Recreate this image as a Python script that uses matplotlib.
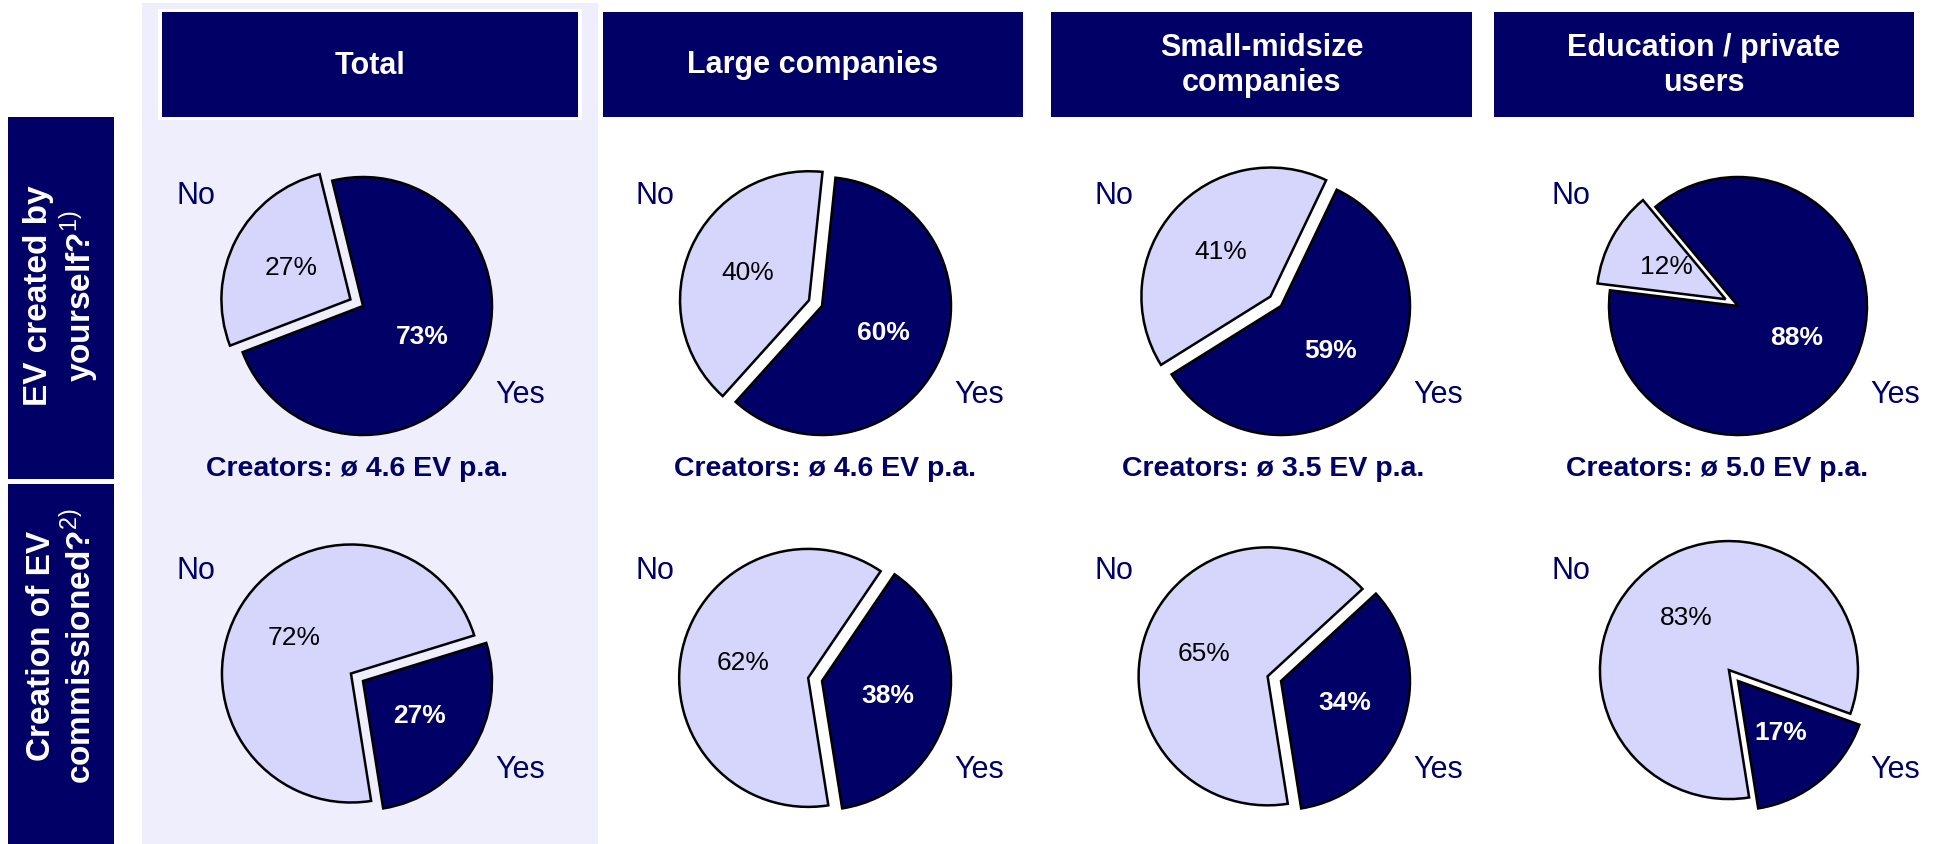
import matplotlib
matplotlib.use("Agg")
import matplotlib.pyplot as plt
from matplotlib.patches import Rectangle

# ---------------- data ----------------
segments = ["Total", "Large companies", "Small-midsize\ncompanies", "Education / private\nusers"]
row_titles = ["EV created by\nyourself?$^{\\mathrm{1)}}$",
              "Creation of EV\ncommissioned?$^{\\mathrm{2)}}$"]
answer_labels = ["Yes", "No"]
created_yes = [73, 60, 59, 88]
created_no = [27, 40, 41, 12]
commissioned_yes = [27, 38, 34, 17]
commissioned_no = [72, 62, 65, 83]
creators_avg = [4.6, 4.6, 3.5, 5.0]

# ---------------- style / layout ----------------
W, H, DPI = 1935, 844, 100
NAVY = "#000066"
LIGHT = "#D6D6FC"
PANEL = "#EEEEFD"
FONT = "Liberation Sans"
plt.rcParams["font.family"] = [FONT, "DejaVu Sans"]
plt.rcParams["mathtext.fontset"] = "custom"
plt.rcParams["mathtext.rm"] = FONT
plt.rcParams["mathtext.bf"] = FONT + ":bold"

col_x = [363, 822, 1281, 1738]
row_y = [306, 681]
R = 129.0                       # pie radius in px
L = 225.0                       # half size of pie axes in px
U = L / R
start_top = [201, 228, 212, 173]
start_bottom = [-81, -81, -81, -81]
EXPL = 0.11

header_boxes = [(162, 578), (603, 1023), (1051, 1472), (1494, 1914)]
header_y = (12, 117)
creators_x = [357, 825, 1273, 1717]

fig = plt.figure(figsize=(W / DPI, H / DPI), dpi=DPI, facecolor="white")
bg = fig.add_axes([0, 0, 1, 1])
bg.set_xlim(0, W)
bg.set_ylim(H, 0)
bg.axis("off")

# Total panel background
bg.add_patch(Rectangle((142, 3), 598 - 142, H - 3, facecolor=PANEL, edgecolor="none", zorder=0))

# header boxes
for i, (x0, x1) in enumerate(header_boxes):
    if i == 0:
        bg.add_patch(Rectangle((x0 - 4, header_y[0] - 3), x1 - x0 + 8, header_y[1] - header_y[0] + 6,
                               facecolor="white", edgecolor="none", zorder=1))
    bg.add_patch(Rectangle((x0, header_y[0]), x1 - x0, header_y[1] - header_y[0],
                           facecolor=NAVY, edgecolor="none", zorder=2))
    bg.text((x0 + x1) / 2, (header_y[0] + header_y[1]) / 2 + 1, segments[i], color="white",
            fontsize=22, fontweight="bold", ha="center", va="center", linespacing=1.18, zorder=3)

# side row boxes
side_boxes = [(117, 479), (484, H)]
side_text_y = [296, 646]
for (y0, y1), t, ty in zip(side_boxes, row_titles, side_text_y):
    bg.add_patch(Rectangle((8, y0), 114 - 8, y1 - y0, facecolor=NAVY, edgecolor="none", zorder=2))
    bg.text(62, ty, t, color="white", fontsize=24, fontweight="bold", rotation=90,
            ha="center", va="center", multialignment="center", linespacing=1.12, zorder=3)

# creators text
for x, v in zip(creators_x, creators_avg):
    bg.text(x, 476, f"Creators: ø {v:.1f} EV p.a.", color=NAVY, fontsize=20.5,
            fontweight="bold", ha="center", va="baseline", zorder=3)


def draw_pie(cx, cy, yes, no, start):
    ax = fig.add_axes([(cx - L) / W, (H - cy - L) / H, 2 * L / W, 2 * L / H])
    vals = [yes, no]
    total = float(sum(vals))
    wedges, texts, autotexts = ax.pie(
        vals, colors=[NAVY, LIGHT], startangle=start, counterclock=True,
        explode=[0, EXPL], radius=1, pctdistance=0.52,
        autopct=lambda p: f"{p * total / 100:.0f}%",
        wedgeprops=dict(edgecolor="black", linewidth=1.8),
        textprops=dict(fontsize=19))
    autotexts[0].set_color("white")
    autotexts[0].set_fontweight("bold")
    autotexts[1].set_color("black")
    ax.set_xlim(-U, U)
    ax.set_ylim(-U, U)
    ax.set_aspect("auto")
    ax.axis("off")
    ax.text(1.217, -0.69, answer_labels[0], color=NAVY, fontsize=22, ha="center", va="center")
    ax.text(-1.295, 0.853, answer_labels[1], color=NAVY, fontsize=22, ha="center", va="center")


for i in range(4):
    draw_pie(col_x[i], row_y[0], created_yes[i], created_no[i], start_top[i])
    draw_pie(col_x[i], row_y[1], commissioned_yes[i], commissioned_no[i], start_bottom[i])

fig.savefig("out.png", dpi=DPI, facecolor="white")
